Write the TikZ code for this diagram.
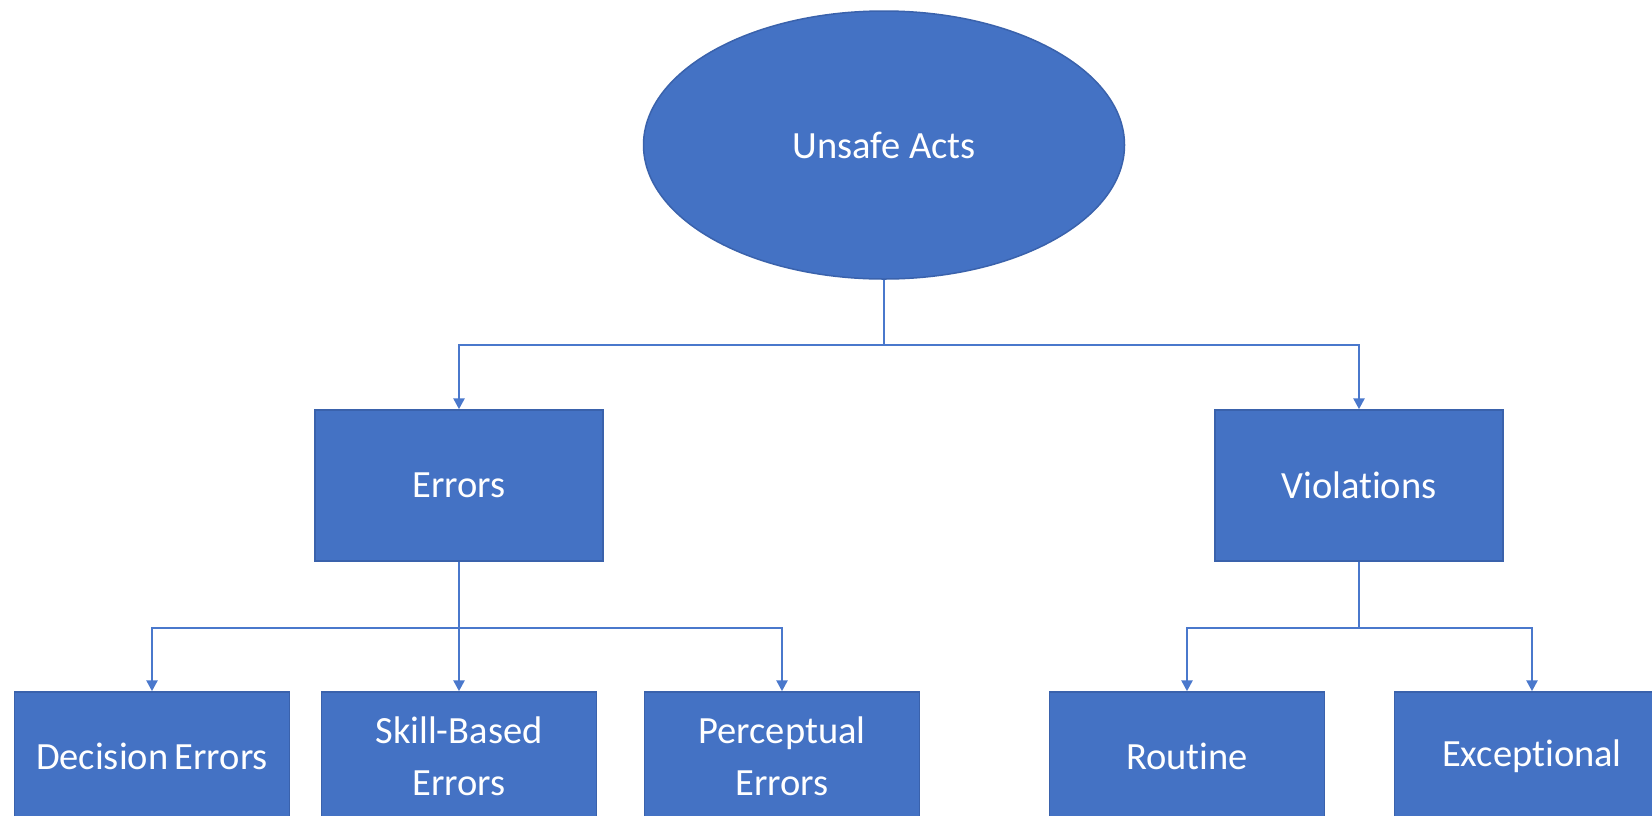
\documentclass[tikz,border=0pt]{standalone}
\usepackage{fontspec}
\setmainfont[RawFeature={-liga;-clig}]{Carlito}
\usetikzlibrary{shapes.geometric,arrows.meta}
\definecolor{boxblue}{HTML}{4472C4}
\definecolor{edgeblue}{HTML}{3A62AC}
\definecolor{linkblue}{HTML}{4A78CC}
\tikzset{
  shapebase/.style={fill=boxblue, draw=edgeblue, line width=1.5pt, text=white,
    inner sep=0pt, align=center, font=\fontsize{38.5}{52}\selectfont},
  ovalbox/.style={shapebase, ellipse, minimum width=481pt, minimum height=268pt},
  midbox/.style={shapebase, rectangle, minimum width=288pt, minimum height=151pt},
  leafbox/.style={shapebase, rectangle, minimum width=275pt, minimum height=128pt},
  link/.style={draw=linkblue, line width=2.6pt},
  arrowlink/.style={link, -{Triangle[length=11pt,width=11pt]}}
}
\begin{document}
\begin{tikzpicture}[x=1pt,y=-1pt]
  \useasboundingbox (0,0) rectangle (1652,815);
  \clip (0,0) rectangle (1652,815);
  \fill[white] (0,0) rectangle (1652,815);

  % top of the hierarchy
  \node[ovalbox] (ua) at (884,145) {Unsafe Acts};

  % second level
  \node[midbox] (err) at (459,485.5) {Errors};
  \node[midbox] (vio) at (1359,485.5) {Violations};

  % leaves
  \node[leafbox] (dec) at (152,756)   {Decision\,Errors};
  \node[leafbox] (skl) at (459,756)   {Skill-Based\\Errors};
  \node[leafbox] (per) at (782,756)   {Perceptual\\Errors};
  \node[leafbox] (rou) at (1187,756)  {Routine};
  \node[leafbox] (exc) at (1532,756)  {Exceptional};

  % branch points
  \coordinate (bus1) at (884,345);
  \coordinate (bus2) at (459,628);
  \coordinate (bus3) at (1359,628);

  % connectors
  \draw[link] (ua.south) -- (bus1);
  \draw[arrowlink] (bus1) -| (err.north);
  \draw[arrowlink] (bus1) -| (vio.north);

  \draw[link] (err.south) -- (bus2);
  \draw[arrowlink] (bus2) -| (dec.north);
  \draw[arrowlink] (bus2) -- (skl.north);
  \draw[arrowlink] (bus2) -| (per.north);

  \draw[link] (vio.south) -- (bus3);
  \draw[arrowlink] (bus3) -| (rou.north);
  \draw[arrowlink] (bus3) -| (exc.north);
\end{tikzpicture}
\end{document}
